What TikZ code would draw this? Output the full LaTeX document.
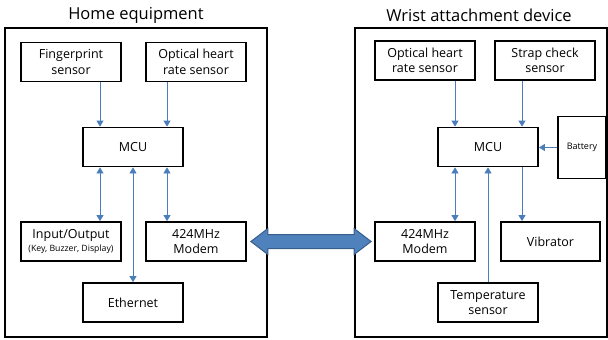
\documentclass[tikz,border=0pt]{standalone}
\usepackage{fontspec}
\setmainfont{Open Sans}
\usetikzlibrary{arrows.meta,calc}
\definecolor{linkblue}{HTML}{4A7EBB}
\definecolor{bigfill}{HTML}{4F81BD}
\definecolor{bigedge}{HTML}{385D8A}
\begin{document}
\begin{tikzpicture}[x=1pt,y=-1pt,
  frame/.style={draw=black,line width=1.8pt},
  blk/.style={draw=black,line width=1.8pt,minimum width=100pt,minimum height=39pt,
    inner sep=1pt,align=center,font=\fontsize{12.5}{15.5}\selectfont},
  title/.style={font=\fontsize{16.5}{19}\selectfont},
  link/.style={draw=linkblue,line width=0.8pt,-{Triangle[length=6pt,width=7pt]}},
  dlink/.style={draw=linkblue,line width=0.8pt,{Triangle[length=6pt,width=7pt]}-{Triangle[length=6pt,width=7pt]}}]
\useasboundingbox (0,0) rectangle (608,340);

% enclosures
\draw[frame] (5,28) rectangle (267,337);
\draw[frame] (355,28) rectangle (607,337);
\node[title] (tL) at (136,15) {Home equipment};
\node[title] (tR) at (479,15) {Wrist attachment device};

% home equipment
\node[blk] (fp)    at (71,62)    {Fingerprint\\sensor};
\node[blk] (optL)  at (196,62)   {Optical heart\\rate sensor};
\node[blk] (mcuL)  at (133,147)  {MCU};
\node[blk] (io)    at (71,241.5) {Input/Output\\[-3pt]{\fontsize{8.7}{9}\selectfont (Key, Buzzer, Display)}};
\node[blk] (modL)  at (196,241.5){424MHz\\Modem};
\node[blk] (eth)   at (133,302.5){Ethernet};

% wrist device
\node[blk] (optR)  at (425,60.5) {Optical heart\\rate sensor};
\node[blk] (strap) at (545,60.5) {Strap check\\sensor};
\node[blk] (mcuR)  at (488,147)  {MCU};
\node[blk,minimum width=48pt,minimum height=62pt,font=\fontsize{9}{11}\selectfont] (bat) at (582,147.5) {Battery};
\node[blk] (modR)  at (425,241.5){424MHz\\Modem};
\node[blk,minimum width=99pt] (vib) at (550.5,241.5){Vibrator};
\node[blk] (temp)  at (488,302.5){Temperature\\sensor};

% connectors, home equipment
\draw[link] ([xshift=29pt]fp.south) -- ([xshift=29pt]fp.south |- mcuL.north);
\draw[link] ([xshift=-29pt]optL.south) -- ([xshift=-29pt]optL.south |- mcuL.north);
\draw[dlink] ([xshift=29pt]io.north |- mcuL.south) -- ([xshift=29pt]io.north);
\draw[dlink] ([xshift=-29pt]modL.north |- mcuL.south) -- ([xshift=-29pt]modL.north);
\draw[dlink] (mcuL.south) -- (eth.north);

% connectors, wrist device
\draw[link] ([xshift=30pt]optR.south) -- ([xshift=30pt]optR.south |- mcuR.north);
\draw[link] ([xshift=-23pt]strap.south) -- ([xshift=-23pt]strap.south |- mcuR.north);
\draw[link] (bat.west) -- (bat.west -| mcuR.east);
\draw[dlink] ([xshift=30pt]modR.north |- mcuR.south) -- ([xshift=30pt]modR.north);
\draw[link] (temp.north) -- (mcuR.south);
\draw[link] ([xshift=-28.5pt]vib.north |- mcuR.south) -- ([xshift=-28.5pt]vib.north);

% radio link between the two modems
\coordinate (tipA) at ([xshift=4pt]modL.east);
\coordinate (tipB) at ([xshift=-3pt]modR.west);
\draw[fill=bigfill,draw=bigedge,line width=1pt,line join=miter]
  (tipA) -- ($(tipA)+(17,-13)$) -- ($(tipA)+(17,-7)$) -- ($(tipB)+(-17,-7)$)
  -- ($(tipB)+(-17,-13)$) -- (tipB) -- ($(tipB)+(-17,13)$) -- ($(tipB)+(-17,7)$)
  -- ($(tipA)+(17,7)$) -- ($(tipA)+(17,13)$) -- cycle;
\end{tikzpicture}
\end{document}
